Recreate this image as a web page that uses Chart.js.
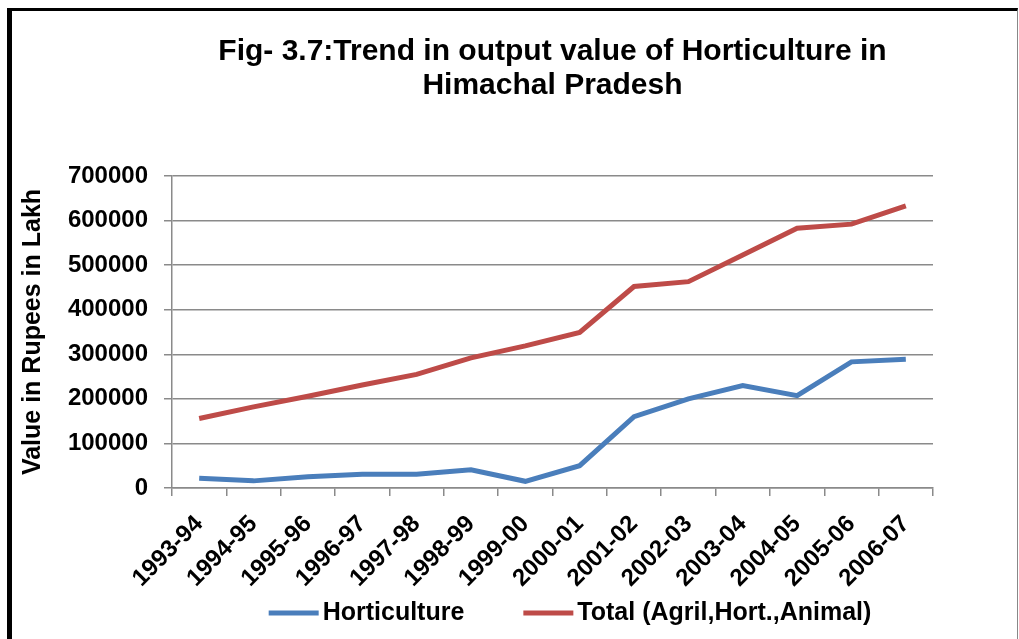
<!DOCTYPE html>
<html>
<head>
<meta charset="utf-8">
<script src="https://cdn.jsdelivr.net/npm/chart.js@4/dist/chart.umd.min.js"></script>
<style>
    body { margin: 0; background: #fff; }
    #wrap { position: relative; width: 1019px; height: 639px; }
    #frame {
        position: absolute; left: 7px; top: 8px; width: 1005px; height: 640px;
        border-left: 5px solid #000; border-top: 3px solid #000; border-right: 1px solid #888;
    }
    canvas { position: absolute; left: 0; top: 0; }
</style>
</head>
<body>
<div id="wrap">
    <div id="frame"></div>
    <canvas id="hortChart" width="1019" height="639"></canvas>
</div>
<script>
const years = ['1993-94', '1994-95', '1995-96', '1996-97', '1997-98', '1998-99', '1999-00',
    '2000-01', '2001-02', '2002-03', '2003-04', '2004-05', '2005-06', '2006-07'];
const horticulture = [22000, 16000, 25000, 31000, 31000, 41000, 15000,
    50000, 160000, 200000, 230000, 207000, 283000, 289000];
const total = [156000, 182000, 206000, 231000, 255000, 292000, 319000,
    349000, 452000, 463000, 523000, 583000, 592000, 633000];
const yTicks = [0, 100000, 200000, 300000, 400000, 500000, 600000, 700000];

const FONT = "'Liberation Sans', Arial, sans-serif";
const gridColor = '#8a8a8a';

// Legend drawn by hand so the line samples sit close to their labels, as in the original
const lineLegend = {
    id: 'lineLegend',
    afterDraw(chart) {
        const c = chart.ctx;
        const sets = chart.data.datasets;
        const lineW = 50, gap = 4, spacing = 59, y = 613, centerX = 570;
        c.save();
        c.font = 'bold 25px ' + FONT;
        const widths = sets.map(ds => c.measureText(ds.label).width);
        let totalW = widths.reduce((a, b) => a + b, 0) + sets.length * (lineW + gap) + (sets.length - 1) * spacing;
        let x = centerX - totalW / 2;
        sets.forEach((ds, i) => {
            c.strokeStyle = ds.borderColor;
            c.lineWidth = 5;
            c.beginPath();
            c.moveTo(x, y);
            c.lineTo(x + lineW, y);
            c.stroke();
            c.fillStyle = '#000';
            c.textBaseline = 'middle';
            c.textAlign = 'left';
            c.fillText(ds.label, x + lineW + gap, y);
            x += lineW + gap + widths[i] + spacing;
        });
        c.restore();
    }
};

const ctx = document.getElementById('hortChart').getContext('2d');
new Chart(ctx, {
    type: 'line',
    data: {
        labels: years,
        datasets: [{
            label: 'Horticulture',
            data: horticulture,
            borderColor: '#4a7ebb',
            backgroundColor: '#4a7ebb',
            borderWidth: 5,
            pointRadius: 0,
            tension: 0
        }, {
            label: 'Total (Agril,Hort.,Animal)',
            data: total,
            borderColor: '#be4b48',
            backgroundColor: '#be4b48',
            borderWidth: 5,
            pointRadius: 0,
            tension: 0
        }]
    },
    options: {
        responsive: false,
        animation: false,
        layout: { padding: { left: 0, right: 86, top: 0, bottom: 0 } },
        plugins: {
            title: {
                display: true,
                fullSize: false,
                text: ['Fig- 3.7:Trend in output value of Horticulture in', 'Himachal Pradesh'],
                color: '#000',
                font: { family: FONT, size: 30, weight: 'bold', lineHeight: 1.15 },
                padding: { top: 34, bottom: 73 }
            },
            legend: { display: false },
            tooltip: { enabled: false }
        },
        scales: {
            x: {
                offset: true,
                grid: { drawOnChartArea: false, offset: true, tickLength: 8, color: gridColor, lineWidth: 1.5 },
                border: { color: gridColor, width: 1.5 },
                ticks: {
                    minRotation: 45,
                    maxRotation: 45,
                    color: '#000',
                    padding: 14,
                    font: { family: FONT, size: 24, weight: 'bold' }
                },
                afterFit: scale => { scale.height = 151; }
            },
            y: {
                min: 0,
                max: 700000,
                afterBuildTicks: scale => { scale.ticks = yTicks.map(v => ({ value: v })); },
                grid: { tickLength: 8, color: gridColor, lineWidth: 1.5 },
                border: { color: gridColor, width: 1.5 },
                ticks: {
                    color: '#000',
                    padding: 16,
                    callback: value => String(value),
                    font: { family: FONT, size: 24, weight: 'bold' }
                },
                title: {
                    display: true,
                    text: 'Value in Rupees in Lakh',
                    color: '#000',
                    padding: { top: 18, bottom: 0 },
                    font: { family: FONT, size: 25, weight: 'bold' }
                },
                afterFit: scale => { scale.width = 172; }
            }
        }
    },
    plugins: [lineLegend]
});
</script>
</body>
</html>
